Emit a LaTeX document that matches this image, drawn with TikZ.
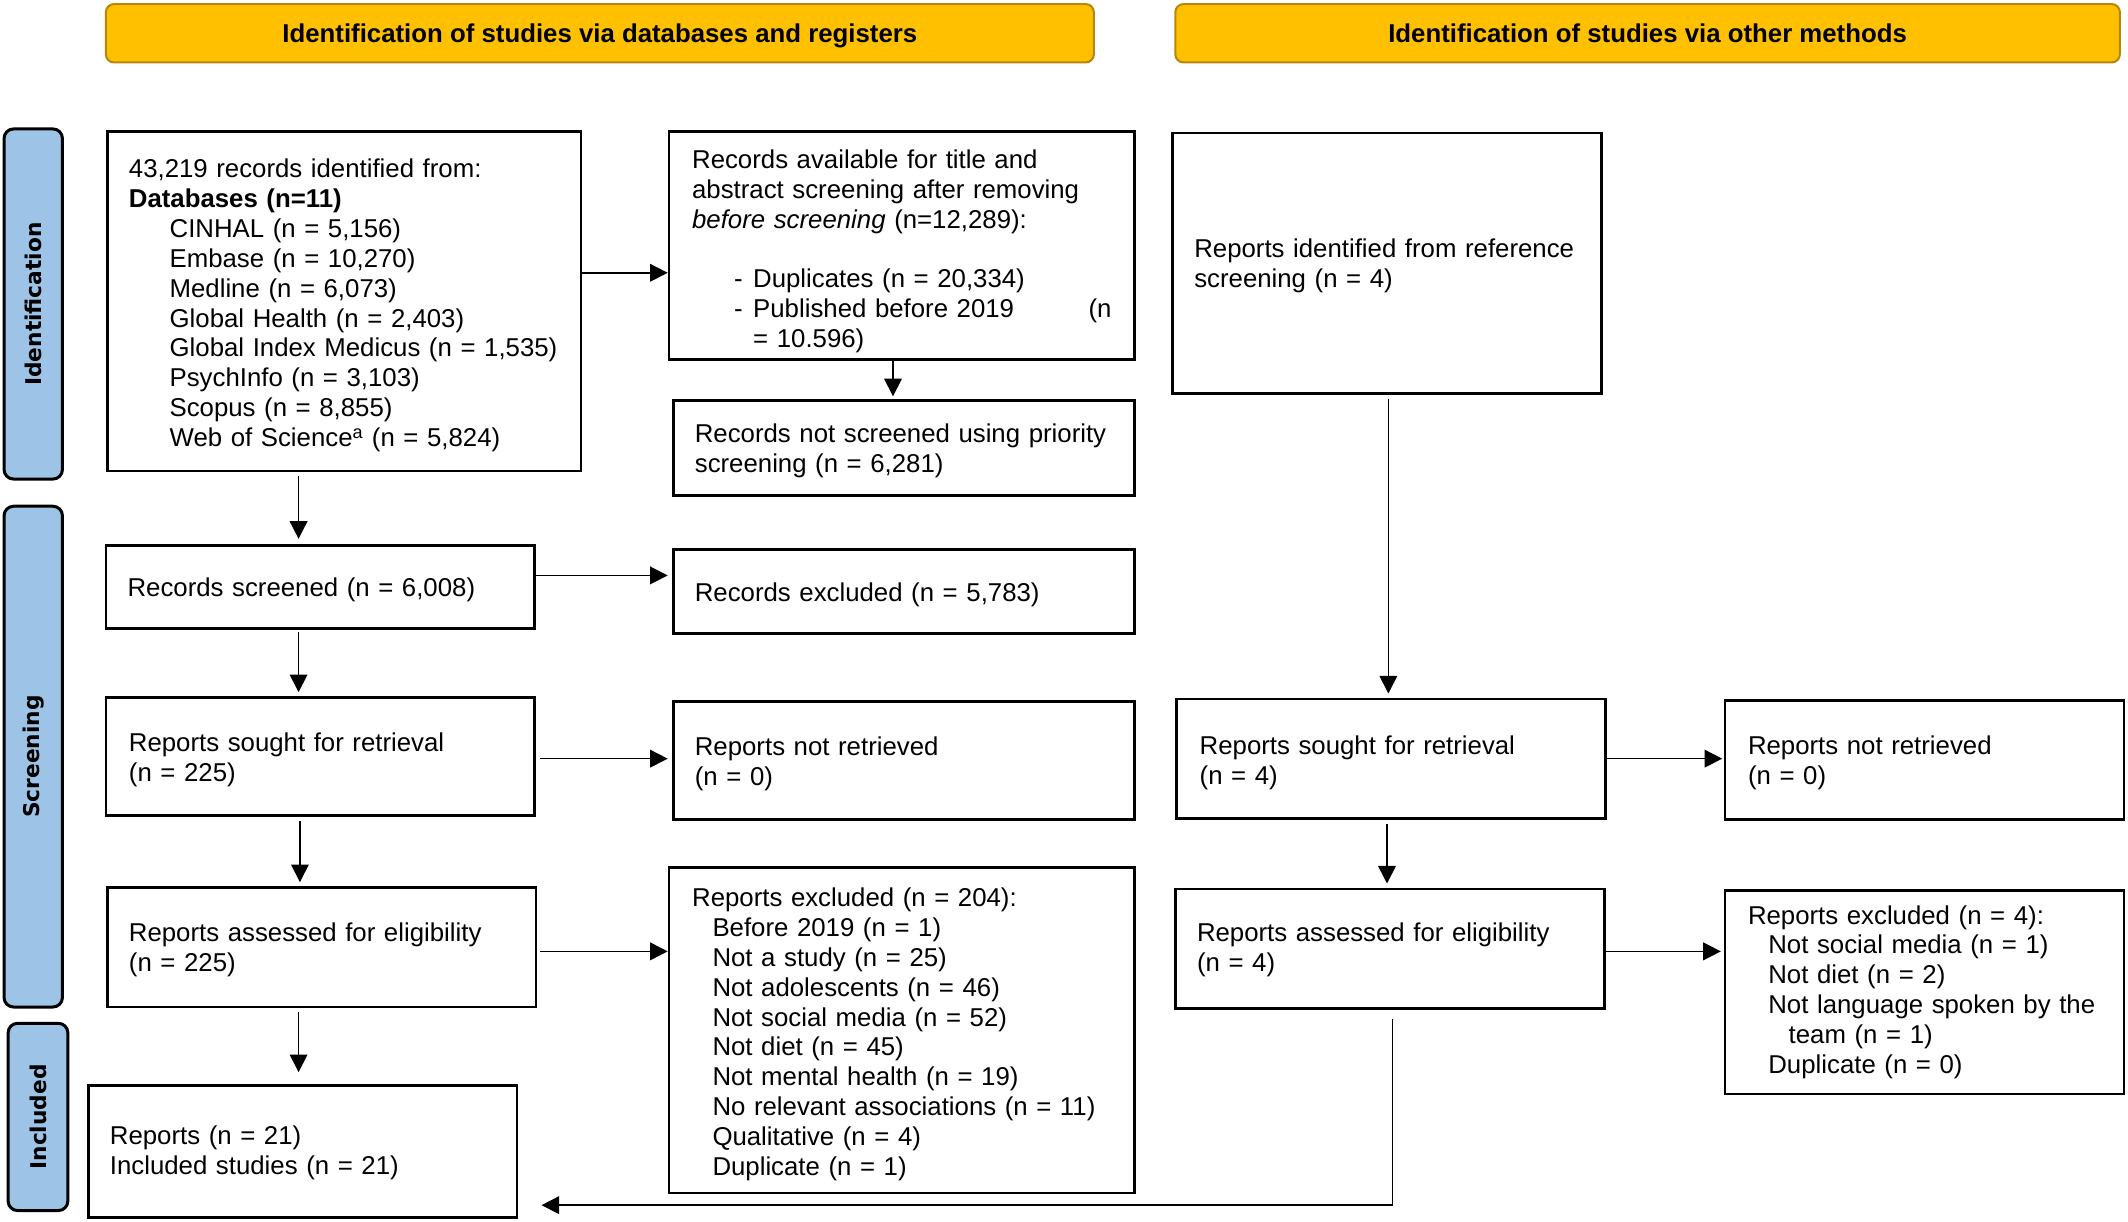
\documentclass[tikz,border=0pt]{standalone}
\usepackage{fontspec}
\usepackage{graphicx}
\setmainfont{Liberation Sans}
\newfontfamily\sidefont{DejaVu Sans}
\usetikzlibrary{arrows.meta}
\definecolor{hdrfill}{HTML}{FFC000}
\definecolor{hdrline}{HTML}{B8860B}
\definecolor{sidefill}{HTML}{9DC3E6}
\newcommand\vsh[1]{\rule{0pt}{#1pt}}
\begin{document}
\begin{tikzpicture}[x=1pt,y=-1pt,
  box/.style={draw, line width=2pt, rectangle, align=left, inner ysep=0pt, font=\fontsize{19}{22}\selectfont},
  hdr/.style={draw=hdrline, fill=hdrfill, line width=1.5pt, rounded corners=6pt, inner sep=0pt, text height=13.8pt, text depth=0pt, font=\fontsize{19}{22}\selectfont\bfseries},
  side/.style={draw=black, fill=sidefill, line width=2.2pt, rounded corners=7pt, inner sep=0pt, font={\sidefont\bfseries\fontsize{16}{18}\selectfont}},
  arr/.style={line width=1.2pt, -{Triangle[length=13pt,width=13pt]}}
]
\useasboundingbox (0,0) rectangle (1568,900);

% headers
\node[hdr, minimum width=728pt, minimum height=43pt] (h1) at (442,24.5) {Identification of studies via databases and registers};
\node[hdr, minimum width=696pt, minimum height=43pt] (h2) at (1214,24.5) {Identification of studies via other methods};

% side bars
\node[side, minimum width=43pt, minimum height=258pt] (s1) at (24.5,224) {\rotatebox{90}{Identification}};
\node[side, minimum width=43pt, minimum height=369pt] (s2) at (24.5,557.5) {\rotatebox{90}{Screening}};
\node[side, minimum width=44pt, minimum height=138pt] (s3) at (28,823) {\rotatebox{90}{Included}};

% left column
\node[box, text width=317pt, inner xsep=16pt, minimum height=250pt] (db) at (253.5,222) {\vsh{20}43,219 records identified from:\\
\textbf{Databases (n=11)}\\
\hspace*{30pt}CINHAL (n = 5,156)\\
\hspace*{30pt}Embase (n = 10,270)\\
\hspace*{30pt}Medline (n = 6,073)\\
\hspace*{30pt}Global Health (n = 2,403)\\
\hspace*{30pt}Global Index Medicus (n = 1,535)\\
\hspace*{30pt}PsychInfo (n = 3,103)\\
\hspace*{30pt}Scopus (n = 8,855)\\
\hspace*{30pt}Web of Science\textsuperscript{a} (n = 5,824)};

\node[box, text width=309pt, inner xsep=17pt, minimum height=168pt] (avail) at (664.5,181) {\vsh{22}Records available for title and\\
abstract screening after removing\\
\textit{before screening} (n=12,289):\\[22pt]
\hspace*{31pt}\makebox[14pt][l]{-}Duplicates (n = 20,334)\\
\hspace*{31pt}\makebox[14pt][l]{-}Published before 2019\hfill(n\\
\hspace*{45pt}= 10.596)};

\node[box, text width=308pt, inner xsep=16pt, minimum height=70pt] (notscr) at (666,330) {\vsh{18}Records not screened using priority\\ screening (n = 6,281)};

\node[box, text width=284pt, inner xsep=16pt, minimum height=61pt] (scr) at (236,432.5) {\vsh{18}Records screened (n = 6,008)};
\node[box, text width=308pt, inner xsep=16pt, minimum height=62pt] (exc) at (666,436) {\vsh{18}Records excluded (n = 5,783)};

\node[box, text width=282pt, inner xsep=17pt, minimum height=87pt] (sought) at (236,557.5) {\vsh{18}Reports sought for retrieval\\ (n = 225)};
\node[box, text width=308pt, inner xsep=16pt, minimum height=87pt] (notret) at (666,560.5) {\vsh{18}Reports not retrieved\\ (n = 0)};

\node[box, text width=284pt, inner xsep=16pt, minimum height=88pt] (assess) at (237,698) {\vsh{18}Reports assessed for eligibility\\ (n = 225)};
\node[box, text width=309pt, inner xsep=17pt, minimum height=240pt] (excl) at (664.5,759) {\vsh{20}Reports excluded (n = 204):\\
\hspace*{15pt}Before 2019 (n = 1)\\
\hspace*{15pt}Not a study (n = 25)\\
\hspace*{15pt}Not adolescents (n = 46)\\
\hspace*{15pt}Not social media (n = 52)\\
\hspace*{15pt}Not diet (n = 45)\\
\hspace*{15pt}Not mental health (n = 19)\\
\hspace*{15pt}No relevant associations (n = 11)\\
\hspace*{15pt}Qualitative (n = 4)\\
\hspace*{15pt}Duplicate (n = 1)};

\node[box, text width=284pt, inner xsep=16pt, minimum height=97pt] (incl) at (223,848.5) {\vsh{16}Reports (n = 21)\\ Included studies (n = 21)};

% right column
\node[box, text width=284pt, inner xsep=16pt, minimum height=192pt] (ref) at (1022,194) {\vsh{18}Reports identified from reference\\ screening (n = 4)};
\node[box, text width=282pt, inner xsep=17pt, minimum height=88pt] (sought4) at (1025,559) {\vsh{20}Reports sought for retrieval\\ (n = 4)};
\node[box, text width=260pt, inner xsep=17pt, minimum height=88pt] (notret4) at (1418,560) {\vsh{18}Reports not retrieved\\ (n = 0)};
\node[box, text width=284pt, inner xsep=16pt, minimum height=88pt] (assess4) at (1024,699) {\vsh{16}Reports assessed for eligibility\\ (n = 4)};
\node[box, text width=260pt, inner xsep=17pt, minimum height=150pt] (excl4) at (1418,731) {Reports excluded (n = 4):\\
\hspace*{15pt}Not social media (n = 1)\\
\hspace*{15pt}Not diet (n = 2)\\
\hspace*{15pt}Not language spoken by the\\
\hspace*{30pt}team (n = 1)\\
\hspace*{15pt}Duplicate (n = 0)};

% connectors
\coordinate (a1) at ([yshift=21pt]db.east);
\draw[arr] (a1) -- (a1 -| avail.west);
\coordinate (a2) at ([xshift=-6.5pt]avail.south);
\draw[arr, shorten >=2pt] (a2) -- (a2 |- notscr.north);
\coordinate (a3) at ([xshift=-33.5pt,yshift=-3pt]db.south);
\draw[arr, shorten >=4pt] (a3) -- (a3 |- scr.north);
\coordinate (a4) at ([yshift=8.5pt]scr.east);
\draw[arr, shorten >=3pt] (a4) -- (a4 -| exc.west);
\coordinate (a5) at ([xshift=-16pt,yshift=-2pt]scr.south);
\draw[arr, shorten >=3pt] (a5) -- (a5 |- sought.north);
\coordinate (a6) at ([xshift=3pt,yshift=-1.5pt]sought.east);
\draw[arr, shorten >=3pt] (a6) -- (a6 -| notret.west);
\coordinate (a7) at ([xshift=-15pt,yshift=-3pt]sought.south);
\draw[arr, shorten >=3pt] (a7) -- (a7 |- assess.north);
\coordinate (a8) at ([xshift=2pt,yshift=-3pt]assess.east);
\draw[arr] (a8) -- (a8 -| excl.west);
\coordinate (a9) at ([xshift=-17pt,yshift=-3pt]assess.south);
\draw[arr, shorten >=9pt] (a9) -- (a9 |- incl.north);
\coordinate (a10) at ([xshift=1pt,yshift=-3pt]ref.south);
\draw[arr, shorten >=3pt] (a10) -- (a10 |- sought4.north);
\coordinate (a11) at (sought4.east);
\draw[arr, shorten >=1pt] (a11) -- (a11 -| notret4.west);
\coordinate (a12) at ([xshift=-3pt,yshift=-3pt]sought4.south);
\draw[arr, shorten >=3pt] (a12) -- (a12 |- assess4.north);
\coordinate (a13) at ([yshift=-2pt]assess4.east);
\draw[arr, shorten >=2pt] (a13) -- (a13 -| excl4.west);
\coordinate (a14) at ([xshift=2pt,yshift=-7pt]assess4.south);
\coordinate (a14e) at ([yshift=-39.5pt]incl.east);
\draw[arr, shorten >=17pt] (a14) |- (a14e);
\end{tikzpicture}
\end{document}
